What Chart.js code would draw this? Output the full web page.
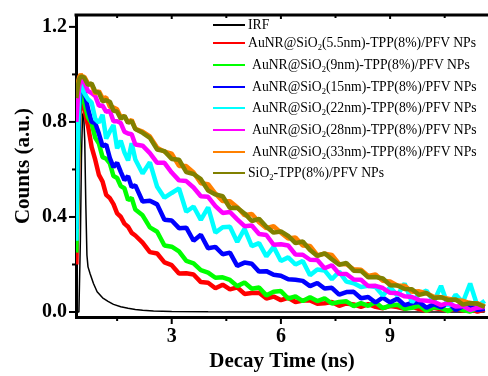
<!DOCTYPE html>
<html>
<head>
<meta charset="utf-8">
<script src="https://cdn.jsdelivr.net/npm/chart.js@4.4.1/dist/chart.umd.min.js"></script>
<style>
  body { margin: 0; background: #fff; }
  #wrap { position: relative; width: 488px; height: 376px; }
  #legend { position: absolute; left: 0; top: 0; font-family: "Liberation Serif", "Times New Roman", serif; font-size: 13.7px; color: #000; }
  .row { position: absolute; white-space: nowrap; display: flex; align-items: center; height: 18px; }
  .row .ln { width: 32px; height: 1.6px; margin-right: 3px; }
  .row sub { font-size: 0.62em; vertical-align: -0.3em; line-height: 0; }
</style>
</head>
<body>
<div id="wrap">
  <canvas id="myChart" width="488" height="376"></canvas>
  <div id="legend"></div>
</div>
<script>
// ---- data ----
const seriesLabels = [
  "IRF",
  "AuNR@SiO2(5.5nm)-TPP(8%)/PFV NPs",
  "AuNR@SiO2(9nm)-TPP(8%)/PFV NPs",
  "AuNR@SiO2(15nm)-TPP(8%)/PFV NPs",
  "AuNR@SiO2(22nm)-TPP(8%)/PFV NPs",
  "AuNR@SiO2(28nm)-TPP(8%)/PFV NPs",
  "AuNR@SiO2(33nm)-TPP(8%)/PFV NPs",
  "SiO2-TPP(8%)/PFV NPs",
];
const seriesColors = ["#000000", "#ff0000", "#00ff00", "#0000ff", "#00ffff", "#ff00ff", "#ff8000", "#808000"];

const xTicks = [3, 6, 9];
const xMinor = [1.5, 4.5, 7.5, 10.5];
const yTicks = [0.0, 0.4, 0.8, 1.2];
const yMinor = [0.2, 0.6, 1.0];

// decay time (ns)
const time = [
  0.38, 0.42, 0.46, 0.5, 0.55, 0.6, 0.7, 0.8, 0.9, 1.0, 1.1, 1.2, 1.3, 1.4, 1.5, 1.6, 1.7, 1.8, 1.9, 2.0,
  2.2, 2.4, 2.6, 2.8, 3.0, 3.2, 3.4, 3.6, 3.8, 4.0, 4.2, 4.4, 4.6, 4.8, 5.0, 5.2, 5.4, 5.6, 5.8, 6.0,
  6.2, 6.4, 6.6, 6.8, 7.0, 7.2, 7.4, 7.6, 7.8, 8.0, 8.2, 8.4, 8.6, 8.8, 9.0, 9.2, 9.4, 9.6, 9.8, 10.0,
  10.2, 10.4, 10.6, 10.8, 11.0, 11.2, 11.4, 11.6,
];

const irfTime = [0.38, 0.45, 0.49, 0.52, 0.55, 0.58, 0.61, 0.64, 0.67, 0.7, 0.76, 0.85, 0.95, 1.1, 1.25, 1.4, 1.6, 1.8, 2.0, 2.2, 2.5, 3.0, 4.0, 6.0, 8.0, 10.0, 11.6];
const irfCounts = [0, 0, 0.3, 0.65, 0.83, 0.84, 0.72, 0.45, 0.24, 0.19, 0.16, 0.12, 0.085, 0.06, 0.045, 0.032, 0.022, 0.016, 0.011, 0.007, 0.004, 0.002, 0.001, 0, 0, 0, 0];

const counts55 = [
  0.20, 0.55, 0.82, 0.90, 0.88, 0.85, 0.783, 0.694, 0.64, 0.577, 0.549, 0.493, 0.479, 0.454, 0.415, 0.401, 0.372, 0.359, 0.333, 0.322,
  0.292, 0.252, 0.246, 0.209, 0.197, 0.162, 0.163, 0.158, 0.126, 0.123, 0.10, 0.115, 0.095, 0.104, 0.076, 0.08, 0.081, 0.057, 0.065, 0.05,
  0.06, 0.042, 0.048, 0.049, 0.035, 0.037, 0.042, 0.026, 0.036, 0.032, 0.022, 0.033, 0.022, 0.016, 0.025, 0.021, 0.013, 0.023, 0.012, 0.005,
  0.018, 0.011, 0.005, 0.016, 0.006, 0.013, 0.002, 0.01,
];
const counts9 = [
  0.25, 0.60, 0.85, 0.92, 0.91, 0.88, 0.819, 0.794, 0.733, 0.709, 0.652, 0.645, 0.626, 0.572, 0.564, 0.53, 0.521, 0.471, 0.48, 0.431,
  0.407, 0.356, 0.338, 0.28, 0.275, 0.255, 0.215, 0.205, 0.176, 0.166, 0.144, 0.146, 0.135, 0.109, 0.124, 0.098, 0.103, 0.07, 0.085, 0.088,
  0.057, 0.066, 0.046, 0.062, 0.046, 0.058, 0.036, 0.042, 0.045, 0.025, 0.037, 0.026, 0.041, 0.016, 0.027, 0.031, 0.014, 0.018, 0.027, 0.005,
  0.02, 0.017, 0.004, 0.022, 0.008, 0.002, 0.016, 0.013,
];
const counts15 = [
  0.35, 0.70, 0.88, 0.93, 0.93, 0.93, 0.855, 0.80, 0.795, 0.75, 0.698, 0.705, 0.648, 0.61, 0.628, 0.59, 0.555, 0.572, 0.526, 0.533,
  0.465, 0.468, 0.453, 0.388, 0.385, 0.353, 0.355, 0.30, 0.325, 0.268, 0.274, 0.243, 0.25, 0.194, 0.208, 0.203, 0.17, 0.172, 0.157, 0.153,
  0.138, 0.136, 0.131, 0.109, 0.122, 0.099, 0.102, 0.073, 0.084, 0.085, 0.058, 0.063, 0.04, 0.061, 0.041, 0.056, 0.029, 0.038, 0.042, 0.018,
  0.033, 0.02, 0.039, 0.009, 0.023, 0.03, 0.008, 0.014,
];
const counts22 = [
  0.30, 0.75, 0.92, 0.96, 0.95, 0.92, 0.896, 0.881, 0.812, 0.797, 0.83, 0.73, 0.76, 0.787, 0.689, 0.721, 0.672, 0.638, 0.71, 0.642,
  0.583, 0.63, 0.527, 0.481, 0.501, 0.52, 0.422, 0.444, 0.388, 0.44, 0.334, 0.357, 0.359, 0.295, 0.35, 0.277, 0.29, 0.234, 0.274, 0.215,
  0.23, 0.20, 0.215, 0.155, 0.179, 0.175, 0.138, 0.17, 0.128, 0.121, 0.105, 0.11, 0.105, 0.07, 0.104, 0.07, 0.12, 0.041, 0.076, 0.09,
  0.043, 0.11, 0.024, 0.073, 0.041, 0.12, 0.025, 0.047,
];
const counts28 = [
  0.80, 0.90, 0.95, 0.975, 0.975, 0.965, 0.93, 0.922, 0.909, 0.868, 0.869, 0.842, 0.847, 0.803, 0.803, 0.795, 0.759, 0.751, 0.748, 0.705,
  0.70, 0.669, 0.628, 0.628, 0.587, 0.554, 0.551, 0.524, 0.487, 0.485, 0.446, 0.417, 0.421, 0.39, 0.361, 0.364, 0.328, 0.324, 0.283, 0.285,
  0.28, 0.242, 0.241, 0.22, 0.219, 0.184, 0.197, 0.161, 0.16, 0.137, 0.136, 0.109, 0.11, 0.101, 0.081, 0.079, 0.066, 0.063, 0.05, 0.047,
  0.043, 0.029, 0.038, 0.023, 0.025, 0.008, 0.018, 0.021,
];
const counts33 = [
  0.91, 0.965, 0.99, 1.0, 0.99, 0.99, 0.961, 0.957, 0.919, 0.93, 0.90, 0.903, 0.864, 0.861, 0.853, 0.82, 0.824, 0.798, 0.809, 0.771,
  0.759, 0.739, 0.691, 0.675, 0.666, 0.615, 0.614, 0.587, 0.542, 0.538, 0.498, 0.467, 0.466, 0.441, 0.407, 0.413, 0.378, 0.353, 0.361, 0.334,
  0.309, 0.314, 0.28, 0.278, 0.239, 0.245, 0.24, 0.202, 0.201, 0.18, 0.178, 0.152, 0.158, 0.131, 0.128, 0.112, 0.111, 0.085, 0.087, 0.079,
  0.064, 0.062, 0.056, 0.05, 0.047, 0.037, 0.037, 0.023,
];
const countsSiO2 = [
  0.90, 0.95, 0.98, 0.99, 0.99, 0.985, 0.956, 0.962, 0.927, 0.923, 0.887, 0.891, 0.885, 0.848, 0.843, 0.813, 0.826, 0.796, 0.804, 0.77,
  0.754, 0.733, 0.684, 0.677, 0.644, 0.641, 0.589, 0.581, 0.559, 0.511, 0.495, 0.487, 0.438, 0.439, 0.415, 0.383, 0.392, 0.359, 0.334, 0.339,
  0.32, 0.29, 0.297, 0.261, 0.236, 0.247, 0.222, 0.199, 0.206, 0.174, 0.173, 0.146, 0.147, 0.141, 0.113, 0.112, 0.097, 0.096, 0.072, 0.08,
  0.059, 0.062, 0.05, 0.053, 0.031, 0.038, 0.035, 0.021,
];

const seriesCounts = [irfCounts, counts55, counts9, counts15, counts22, counts28, counts33, countsSiO2];

// ---- chart ----
const serif = "'Liberation Serif', 'Times New Roman', serif";

const datasets = seriesCounts.map((arr, i) => {
  const t = i === 0 ? irfTime : time;
  return {
    label: seriesLabels[i],
    data: arr.map((v, k) => ({ x: t[k], y: v })),
    borderColor: seriesColors[i],
    borderWidth: i === 0 ? 1.5 : 4.5,
    borderJoinStyle: "bevel",
    pointRadius: 0,
    tension: 0,
    fill: false,
    order: seriesCounts.length - 1 - i, // later series drawn on top
  };
});

const frame = {
  id: "frame",
  afterDraw(chart) {
    const { ctx, chartArea: a, scales } = chart;
    const line = (x1, y1, x2, y2) => {
      ctx.beginPath();
      ctx.moveTo(x1, y1);
      ctx.lineTo(x2, y2);
      ctx.stroke();
    };
    ctx.save();
    ctx.strokeStyle = "#000";
    ctx.lineWidth = 3;
    line(a.left - 1.5, a.top, a.right, a.top);
    ctx.lineWidth = 2;
    xTicks.forEach((v) => {
      const px = scales.x.getPixelForValue(v);
      line(px, a.bottom, px, a.bottom + 7);
      line(px, a.top, px, a.top + 4);
    });
    xMinor.forEach((v) => {
      const px = scales.x.getPixelForValue(v);
      line(px, a.bottom, px, a.bottom + 4);
      line(px, a.top, px, a.top + 3);
    });
    yTicks.forEach((v) => {
      const py = scales.y.getPixelForValue(v);
      line(a.left - 7, py, a.left, py);
    });
    yMinor.forEach((v) => {
      const py = scales.y.getPixelForValue(v);
      line(a.left - 4, py, a.left, py);
    });
    ctx.restore();
  },
};

new Chart(document.getElementById("myChart").getContext("2d"), {
  type: "line",
  data: { datasets },
  options: {
    responsive: false,
    animation: false,
    devicePixelRatio: 1,
    layout: { padding: { top: 15, right: 0, left: 0, bottom: 0 } },
    scales: {
      x: {
        type: "linear",
        min: 0.37,
        max: 11.69,
        afterFit: (s) => { s.height = 59; s.paddingLeft = 0; s.paddingRight = 0; },
        afterBuildTicks: (s) => { s.ticks = xTicks.map((v) => ({ value: v })); },
        grid: { display: false, drawTicks: false, drawOnChartArea: false },
        border: { display: true, width: 3, color: "#000" },
        ticks: {
          color: "#000",
          padding: 8,
          maxRotation: 0,
          font: { family: serif, size: 20, weight: "bold" },
          callback: (v) => String(v),
        },
        title: {
          display: true,
          text: "Decay Time (ns)",
          color: "#000",
          padding: { top: 0, bottom: 2 },
          font: { family: serif, size: 21, weight: "bold" },
        },
      },
      y: {
        min: -0.021,
        max: 1.25,
        afterFit: (s) => { s.width = 76; s.paddingTop = 0; s.paddingBottom = 0; },
        afterBuildTicks: (s) => { s.ticks = yTicks.map((v) => ({ value: v })); },
        grid: { display: false, drawTicks: false, drawOnChartArea: false },
        border: { display: true, width: 3, color: "#000" },
        ticks: {
          color: "#000",
          padding: 9,
          font: { family: serif, size: 20, weight: "bold" },
          callback: (v) => Number(v).toFixed(1),
        },
        title: {
          display: true,
          text: "Counts (a.u.)",
          color: "#000",
          padding: { top: 11, bottom: 0 },
          font: { family: serif, size: 21, weight: "bold" },
        },
      },
    },
    plugins: {
      legend: { display: false },
      tooltip: { enabled: false },
    },
  },
  plugins: [frame],
});

// ---- legend (html, so SiO2 can carry a real subscript) ----
const legendRowY = [25, 43, 65, 87, 108, 130, 152, 173];
const legendIndent = [0, 0, 4, 4, 4, 4, 4, 0];
const legend = document.getElementById("legend");
seriesLabels.forEach((lab, i) => {
  const row = document.createElement("div");
  row.className = "row";
  row.style.left = "213px";
  row.style.top = legendRowY[i] - 9 + "px";
  const ln = document.createElement("span");
  ln.className = "ln";
  ln.style.background = seriesColors[i];
  ln.style.marginRight = 3 + legendIndent[i] + "px";
  const txt = document.createElement("span");
  txt.innerHTML = lab.replace("SiO2", "SiO<sub>2</sub>");
  row.appendChild(ln);
  row.appendChild(txt);
  legend.appendChild(row);
});
</script>
</body>
</html>
